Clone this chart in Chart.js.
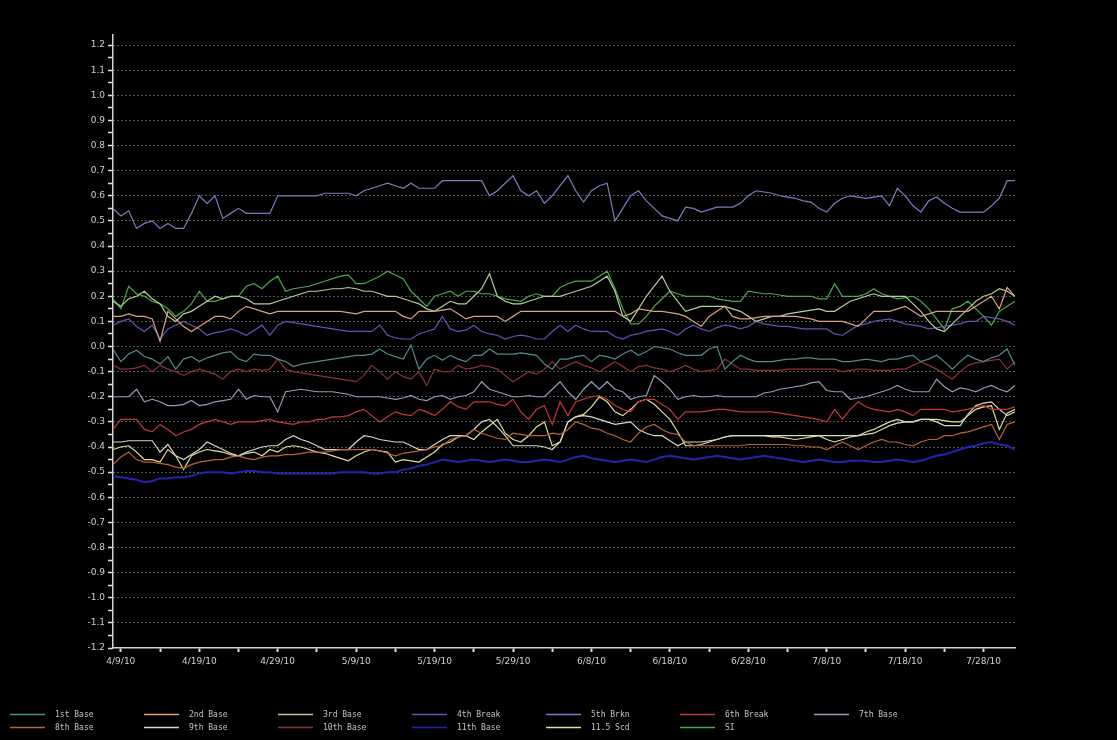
<!DOCTYPE html>
<html>
<head>
<meta charset="utf-8">
<script src="https://cdn.jsdelivr.net/npm/chart.js@4.4.1/dist/chart.umd.min.js"></script>
<style>
  html, body { margin: 0; padding: 0; background: #000; overflow: hidden; }
  canvas { display: block; }
</style>
</head>
<body>
<canvas id="chart" width="1117" height="740"></canvas>
<script>
// Series names and line colours, in legend order (two rows: 7 + 6)
const seriesNames = ['1st Base', '2nd Base', '3rd Base', '4th Break', '5th Brkn', '6th Break', '7th Base',
                     '8th Base', '9th Base', '10th Base', '11th Base', '11.5 Scd', 'SI'];
const seriesColors = ['#4f8c8c', '#e0a07e', '#b4cf96', '#6452b4', '#7580c2', '#c43838', '#949cba',
                      '#bb6238', '#d4d8c6', '#8c3232', '#2424b0', '#e2e094', '#4aaa4a'];
const seriesWidths = [1.2, 1.2, 1.2, 1.2, 1.2, 1.2, 1.2, 1.2, 1.2, 1.2, 2, 1.2, 1.2];

// Date tick labels and the sample index each one sits on
const xTickAt = [1, 11, 21, 31, 41, 51, 61, 71, 81, 91, 101, 111];
const xTickLabels = ['4/9/10', '4/19/10', '4/29/10', '5/9/10', '5/19/10', '5/29/10',
                     '6/8/10', '6/18/10', '6/28/10', '7/8/10', '7/18/10', '7/28/10'];

// One value per sample (116 samples each)
const base1st = [
  -0.01,-0.06,-0.03,-0.015,-0.04,-0.05,-0.07,-0.04,-0.09,-0.05,
  -0.04,-0.06,-0.045,-0.035,-0.025,-0.02,-0.05,-0.06,-0.03,-0.035,
  -0.035,-0.05,-0.06,-0.08,-0.07,-0.065,-0.06,-0.055,-0.05,-0.045,
  -0.04,-0.035,-0.035,-0.03,-0.01,-0.03,-0.04,-0.05,0.005,-0.09,
  -0.05,-0.035,-0.055,-0.035,-0.05,-0.06,-0.035,-0.035,-0.01,-0.03,
  -0.03,-0.03,-0.025,-0.03,-0.035,-0.07,-0.09,-0.05,-0.05,-0.04,
  -0.035,-0.06,-0.035,-0.04,-0.05,-0.03,-0.015,-0.035,-0.02,0.0,
  -0.005,-0.01,-0.025,-0.035,-0.035,-0.035,-0.01,0.0,-0.09,-0.06,
  -0.035,-0.05,-0.06,-0.06,-0.06,-0.055,-0.05,-0.05,-0.045,-0.045,
  -0.05,-0.05,-0.05,-0.06,-0.06,-0.055,-0.05,-0.055,-0.06,-0.05,
  -0.05,-0.04,-0.035,-0.06,-0.05,-0.035,-0.06,-0.09,-0.06,-0.035,
  -0.05,-0.06,-0.045,-0.035,-0.01,-0.075
];
const base2nd = [
  0.12,0.12,0.13,0.12,0.12,0.11,0.02,0.14,0.11,0.08,
  0.06,0.08,0.10,0.12,0.12,0.11,0.14,0.16,0.15,0.14,
  0.13,0.14,0.14,0.14,0.14,0.14,0.14,0.14,0.14,0.14,
  0.135,0.13,0.14,0.14,0.14,0.14,0.14,0.12,0.11,0.14,
  0.14,0.14,0.145,0.15,0.13,0.11,0.12,0.12,0.12,0.12,
  0.10,0.12,0.14,0.14,0.14,0.14,0.14,0.14,0.14,0.14,
  0.14,0.14,0.14,0.14,0.14,0.12,0.13,0.15,0.145,0.14,
  0.14,0.135,0.13,0.12,0.10,0.08,0.12,0.14,0.16,0.12,
  0.11,0.11,0.115,0.12,0.12,0.12,0.12,0.12,0.115,0.11,
  0.10,0.10,0.10,0.10,0.09,0.08,0.11,0.14,0.14,0.14,
  0.15,0.16,0.14,0.12,0.13,0.14,0.14,0.14,0.14,0.14,
  0.16,0.18,0.20,0.15,0.235,0.20
];
const base3rd = [
  0.18,0.16,0.19,0.20,0.22,0.19,0.17,0.12,0.10,0.13,
  0.14,0.16,0.18,0.20,0.19,0.20,0.20,0.19,0.17,0.17,
  0.17,0.18,0.19,0.20,0.21,0.22,0.22,0.225,0.23,0.23,
  0.235,0.23,0.22,0.22,0.21,0.20,0.20,0.19,0.18,0.17,
  0.15,0.14,0.16,0.18,0.17,0.17,0.20,0.23,0.29,0.20,
  0.18,0.17,0.17,0.18,0.19,0.20,0.20,0.20,0.21,0.22,
  0.23,0.24,0.26,0.28,0.22,0.12,0.10,0.15,0.20,0.24,
  0.28,0.22,0.18,0.14,0.15,0.16,0.16,0.16,0.16,0.15,
  0.14,0.12,0.10,0.11,0.12,0.12,0.13,0.135,0.14,0.145,
  0.15,0.14,0.14,0.16,0.18,0.19,0.20,0.21,0.20,0.20,
  0.20,0.20,0.17,0.14,0.10,0.07,0.06,0.09,0.12,0.15,
  0.18,0.20,0.21,0.23,0.22,0.20
];
const break4th = [
  0.085,0.10,0.11,0.08,0.06,0.085,0.03,0.07,0.085,0.10,
  0.085,0.07,0.045,0.055,0.06,0.07,0.06,0.045,0.065,0.085,
  0.045,0.085,0.10,0.095,0.09,0.085,0.08,0.075,0.07,0.065,
  0.06,0.06,0.06,0.06,0.085,0.045,0.035,0.03,0.03,0.05,
  0.06,0.07,0.12,0.07,0.06,0.065,0.085,0.06,0.05,0.045,
  0.03,0.04,0.045,0.04,0.03,0.03,0.06,0.085,0.06,0.085,
  0.07,0.06,0.06,0.06,0.04,0.03,0.045,0.05,0.06,0.065,
  0.07,0.06,0.045,0.07,0.085,0.07,0.06,0.075,0.085,0.08,
  0.07,0.08,0.10,0.09,0.085,0.08,0.08,0.075,0.07,0.07,
  0.07,0.07,0.05,0.045,0.065,0.085,0.09,0.10,0.105,0.11,
  0.10,0.09,0.085,0.08,0.07,0.075,0.08,0.085,0.09,0.10,
  0.10,0.12,0.115,0.11,0.10,0.085
];
const brkn5th = [
  0.55,0.52,0.54,0.47,0.49,0.50,0.47,0.49,0.47,0.47,
  0.53,0.60,0.57,0.60,0.51,0.53,0.55,0.53,0.53,0.53,
  0.53,0.60,0.60,0.60,0.60,0.60,0.60,0.61,0.61,0.61,
  0.61,0.60,0.62,0.63,0.64,0.65,0.64,0.63,0.65,0.63,
  0.63,0.63,0.66,0.66,0.66,0.66,0.66,0.66,0.60,0.62,
  0.65,0.68,0.62,0.60,0.62,0.57,0.60,0.64,0.68,0.62,
  0.575,0.62,0.64,0.65,0.50,0.55,0.60,0.62,0.58,0.55,
  0.52,0.51,0.50,0.555,0.55,0.535,0.545,0.555,0.555,0.555,
  0.57,0.60,0.62,0.615,0.61,0.60,0.595,0.59,0.58,0.575,
  0.55,0.535,0.57,0.59,0.60,0.595,0.59,0.595,0.60,0.56,
  0.63,0.60,0.56,0.535,0.58,0.595,0.57,0.55,0.535,0.535,
  0.535,0.535,0.56,0.59,0.66,0.66
];
const break6th = [
  -0.33,-0.29,-0.29,-0.29,-0.33,-0.34,-0.31,-0.33,-0.355,-0.34,
  -0.33,-0.31,-0.30,-0.29,-0.30,-0.31,-0.30,-0.30,-0.30,-0.295,
  -0.29,-0.30,-0.305,-0.31,-0.30,-0.30,-0.29,-0.29,-0.28,-0.28,
  -0.275,-0.26,-0.25,-0.275,-0.30,-0.28,-0.26,-0.27,-0.275,-0.25,
  -0.26,-0.275,-0.25,-0.22,-0.24,-0.25,-0.22,-0.22,-0.22,-0.23,
  -0.235,-0.21,-0.26,-0.29,-0.25,-0.235,-0.31,-0.22,-0.275,-0.22,
  -0.21,-0.20,-0.195,-0.21,-0.235,-0.25,-0.26,-0.22,-0.21,-0.21,
  -0.23,-0.25,-0.29,-0.26,-0.26,-0.26,-0.255,-0.25,-0.25,-0.255,
  -0.26,-0.26,-0.26,-0.26,-0.26,-0.265,-0.27,-0.275,-0.28,-0.285,
  -0.29,-0.30,-0.25,-0.29,-0.25,-0.22,-0.24,-0.25,-0.255,-0.26,
  -0.25,-0.26,-0.275,-0.25,-0.25,-0.25,-0.25,-0.26,-0.255,-0.25,
  -0.24,-0.235,-0.25,-0.25,-0.25,-0.24
];
const base7th = [
  -0.20,-0.20,-0.20,-0.17,-0.22,-0.21,-0.22,-0.235,-0.235,-0.23,
  -0.215,-0.235,-0.23,-0.22,-0.215,-0.21,-0.17,-0.21,-0.195,-0.20,
  -0.20,-0.26,-0.18,-0.175,-0.17,-0.175,-0.18,-0.18,-0.18,-0.185,
  -0.19,-0.20,-0.20,-0.20,-0.20,-0.205,-0.21,-0.205,-0.195,-0.21,
  -0.215,-0.20,-0.195,-0.21,-0.20,-0.195,-0.18,-0.14,-0.17,-0.18,
  -0.19,-0.20,-0.20,-0.195,-0.20,-0.20,-0.17,-0.14,-0.18,-0.21,
  -0.17,-0.14,-0.17,-0.14,-0.17,-0.18,-0.21,-0.20,-0.195,-0.115,
  -0.14,-0.17,-0.21,-0.20,-0.195,-0.20,-0.20,-0.195,-0.20,-0.20,
  -0.20,-0.20,-0.20,-0.185,-0.18,-0.17,-0.165,-0.16,-0.155,-0.145,
  -0.14,-0.175,-0.18,-0.18,-0.21,-0.205,-0.20,-0.19,-0.18,-0.17,
  -0.155,-0.17,-0.18,-0.18,-0.18,-0.13,-0.16,-0.18,-0.165,-0.17,
  -0.18,-0.165,-0.155,-0.17,-0.18,-0.155
];
const base8th = [
  -0.47,-0.44,-0.42,-0.45,-0.46,-0.46,-0.465,-0.47,-0.48,-0.485,
  -0.47,-0.46,-0.455,-0.45,-0.45,-0.44,-0.435,-0.445,-0.45,-0.44,
  -0.435,-0.435,-0.43,-0.43,-0.425,-0.42,-0.42,-0.42,-0.415,-0.41,
  -0.41,-0.41,-0.41,-0.41,-0.415,-0.425,-0.435,-0.425,-0.42,-0.415,
  -0.41,-0.40,-0.395,-0.37,-0.36,-0.355,-0.33,-0.345,-0.355,-0.365,
  -0.37,-0.345,-0.35,-0.355,-0.355,-0.355,-0.345,-0.35,-0.33,-0.30,
  -0.31,-0.325,-0.33,-0.345,-0.355,-0.37,-0.38,-0.345,-0.32,-0.31,
  -0.33,-0.345,-0.35,-0.38,-0.395,-0.395,-0.395,-0.395,-0.395,-0.395,
  -0.395,-0.39,-0.39,-0.39,-0.39,-0.39,-0.39,-0.395,-0.395,-0.40,
  -0.40,-0.41,-0.395,-0.38,-0.395,-0.41,-0.395,-0.38,-0.37,-0.38,
  -0.38,-0.39,-0.395,-0.38,-0.37,-0.37,-0.355,-0.355,-0.345,-0.34,
  -0.33,-0.32,-0.31,-0.37,-0.31,-0.30
];
const base9th = [
  -0.38,-0.38,-0.375,-0.375,-0.375,-0.375,-0.42,-0.39,-0.435,-0.45,
  -0.43,-0.41,-0.38,-0.395,-0.41,-0.425,-0.435,-0.42,-0.41,-0.40,
  -0.395,-0.395,-0.37,-0.355,-0.37,-0.38,-0.395,-0.41,-0.41,-0.41,
  -0.41,-0.38,-0.355,-0.36,-0.37,-0.375,-0.38,-0.38,-0.395,-0.41,
  -0.41,-0.39,-0.37,-0.355,-0.355,-0.355,-0.33,-0.30,-0.29,-0.32,
  -0.355,-0.395,-0.395,-0.395,-0.395,-0.40,-0.41,-0.38,-0.30,-0.28,
  -0.275,-0.28,-0.29,-0.30,-0.31,-0.305,-0.30,-0.33,-0.345,-0.355,
  -0.355,-0.375,-0.395,-0.38,-0.38,-0.38,-0.375,-0.37,-0.36,-0.355,
  -0.355,-0.355,-0.355,-0.355,-0.355,-0.355,-0.355,-0.355,-0.355,-0.355,
  -0.355,-0.355,-0.355,-0.355,-0.355,-0.355,-0.35,-0.345,-0.33,-0.315,
  -0.305,-0.30,-0.30,-0.29,-0.29,-0.30,-0.315,-0.315,-0.315,-0.27,
  -0.235,-0.225,-0.22,-0.25,-0.275,-0.26
];
const base10th = [
  -0.075,-0.09,-0.09,-0.085,-0.075,-0.10,-0.075,-0.09,-0.10,-0.115,
  -0.10,-0.09,-0.10,-0.11,-0.13,-0.10,-0.09,-0.10,-0.09,-0.095,
  -0.09,-0.05,-0.09,-0.10,-0.105,-0.11,-0.115,-0.12,-0.125,-0.13,
  -0.135,-0.14,-0.115,-0.075,-0.10,-0.13,-0.10,-0.12,-0.13,-0.10,
  -0.155,-0.09,-0.10,-0.10,-0.075,-0.09,-0.085,-0.075,-0.08,-0.09,
  -0.115,-0.14,-0.12,-0.10,-0.11,-0.09,-0.06,-0.09,-0.075,-0.06,
  -0.075,-0.085,-0.10,-0.08,-0.06,-0.08,-0.10,-0.08,-0.075,-0.085,
  -0.09,-0.10,-0.09,-0.075,-0.09,-0.10,-0.095,-0.09,-0.05,-0.07,
  -0.09,-0.09,-0.095,-0.095,-0.095,-0.095,-0.09,-0.09,-0.09,-0.09,
  -0.09,-0.09,-0.09,-0.10,-0.095,-0.09,-0.09,-0.095,-0.095,-0.095,
  -0.09,-0.09,-0.075,-0.06,-0.075,-0.09,-0.11,-0.13,-0.10,-0.075,
  -0.065,-0.06,-0.055,-0.05,-0.09,-0.06
];
const base11th = [
  -0.515,-0.52,-0.525,-0.53,-0.54,-0.535,-0.525,-0.525,-0.52,-0.52,
  -0.515,-0.505,-0.50,-0.50,-0.50,-0.505,-0.50,-0.495,-0.495,-0.50,
  -0.50,-0.505,-0.505,-0.505,-0.505,-0.505,-0.505,-0.505,-0.505,-0.50,
  -0.50,-0.50,-0.50,-0.505,-0.505,-0.50,-0.50,-0.49,-0.485,-0.475,
  -0.47,-0.46,-0.45,-0.455,-0.46,-0.455,-0.45,-0.455,-0.46,-0.455,
  -0.45,-0.455,-0.46,-0.46,-0.455,-0.45,-0.455,-0.46,-0.45,-0.44,
  -0.435,-0.445,-0.45,-0.455,-0.46,-0.455,-0.45,-0.455,-0.46,-0.45,
  -0.44,-0.435,-0.44,-0.445,-0.45,-0.445,-0.44,-0.435,-0.44,-0.445,
  -0.45,-0.445,-0.44,-0.435,-0.44,-0.445,-0.45,-0.455,-0.46,-0.455,
  -0.45,-0.455,-0.46,-0.46,-0.455,-0.455,-0.455,-0.46,-0.46,-0.455,
  -0.45,-0.455,-0.46,-0.455,-0.445,-0.435,-0.43,-0.42,-0.41,-0.40,
  -0.395,-0.385,-0.38,-0.39,-0.395,-0.41
];
const scd115 = [
  -0.41,-0.40,-0.395,-0.42,-0.45,-0.45,-0.46,-0.41,-0.435,-0.49,
  -0.435,-0.42,-0.41,-0.415,-0.42,-0.43,-0.435,-0.425,-0.42,-0.435,
  -0.41,-0.42,-0.40,-0.395,-0.40,-0.41,-0.42,-0.425,-0.435,-0.445,
  -0.455,-0.435,-0.42,-0.41,-0.415,-0.42,-0.46,-0.45,-0.455,-0.46,
  -0.44,-0.42,-0.39,-0.38,-0.36,-0.355,-0.37,-0.34,-0.315,-0.29,
  -0.345,-0.37,-0.38,-0.355,-0.32,-0.30,-0.395,-0.38,-0.30,-0.28,
  -0.27,-0.24,-0.20,-0.22,-0.26,-0.275,-0.25,-0.22,-0.21,-0.23,
  -0.26,-0.29,-0.34,-0.395,-0.395,-0.39,-0.38,-0.37,-0.36,-0.355,
  -0.355,-0.355,-0.355,-0.355,-0.36,-0.36,-0.365,-0.37,-0.365,-0.36,
  -0.355,-0.37,-0.38,-0.37,-0.36,-0.355,-0.34,-0.33,-0.315,-0.30,
  -0.29,-0.30,-0.30,-0.29,-0.29,-0.29,-0.295,-0.30,-0.30,-0.275,
  -0.25,-0.24,-0.235,-0.33,-0.265,-0.25
];
const si = [
  0.19,0.15,0.24,0.21,0.20,0.18,0.17,0.15,0.12,0.14,
  0.17,0.22,0.18,0.18,0.19,0.20,0.20,0.24,0.25,0.23,
  0.26,0.28,0.22,0.23,0.235,0.24,0.25,0.26,0.27,0.28,
  0.285,0.25,0.25,0.265,0.28,0.30,0.285,0.27,0.22,0.19,
  0.16,0.20,0.21,0.22,0.20,0.22,0.22,0.21,0.21,0.20,
  0.19,0.185,0.18,0.20,0.21,0.20,0.20,0.235,0.25,0.26,
  0.26,0.26,0.28,0.30,0.23,0.15,0.09,0.09,0.12,0.16,
  0.19,0.22,0.21,0.20,0.20,0.20,0.20,0.19,0.185,0.18,
  0.18,0.22,0.215,0.21,0.21,0.205,0.20,0.20,0.20,0.20,
  0.19,0.19,0.25,0.20,0.20,0.20,0.21,0.23,0.21,0.20,
  0.19,0.195,0.20,0.18,0.15,0.11,0.07,0.15,0.16,0.18,
  0.15,0.12,0.085,0.14,0.16,0.18
];

const seriesValues = [base1st, base2nd, base3rd, break4th, brkn5th, break6th, base7th,
                      base8th, base9th, base10th, base11th, scd115, si];

const datasets = seriesValues.map((vals, s) => ({
  label: seriesNames[s],
  data: vals.map((v, i) => ({ x: i, y: v })),
  borderColor: seriesColors[s],
  backgroundColor: seriesColors[s],
  borderWidth: seriesWidths[s],
  pointRadius: 0,
  tension: 0,
  fill: false
}));

const axisFont = { family: 'DejaVu Sans', size: 9 };
const textColor = '#cfcfcf';

// Black page background
const blackBackground = {
  id: 'blackBackground',
  beforeDraw(chart) {
    const c = chart.ctx;
    c.save();
    c.fillStyle = '#000';
    c.fillRect(0, 0, chart.width, chart.height);
    c.restore();
  }
};

// Fixed-column legend along the bottom edge
const gridLegend = {
  id: 'gridLegend',
  afterDraw(chart) {
    const c = chart.ctx;
    c.save();
    c.font = '8px "DejaVu Sans Mono"';
    c.textBaseline = 'middle';
    c.textAlign = 'left';
    chart.data.datasets.forEach((ds, i) => {
      const col = i % 7, row = Math.floor(i / 7);
      const x = 10 + col * 134;
      const y = 714 + row * 13;
      c.strokeStyle = ds.borderColor;
      c.lineWidth = 1.5;
      c.beginPath();
      c.moveTo(x, y + 0.5);
      c.lineTo(x + 35, y + 0.5);
      c.stroke();
      c.fillStyle = '#c4c4c4';
      c.fillText(ds.label, x + 45, y + 1);
    });
    c.restore();
  }
};

new Chart(document.getElementById('chart'), {
  type: 'line',
  data: { datasets },
  plugins: [blackBackground, gridLegend],
  options: {
    responsive: false,
    animation: false,
    devicePixelRatio: 1,
    layout: { padding: { left: 0, top: 35, right: 102, bottom: 70 } },
    plugins: {
      legend: { display: false },
      tooltip: { enabled: false }
    },
    scales: {
      x: {
        type: 'linear',
        min: 0,
        max: 115,
        afterBuildTicks(scale) {
          const t = [];
          for (let v = xTickAt[0]; v <= 115; v += 5) t.push({ value: v });
          scale.ticks = t;
        },
        afterFit(scale) { scale.height = 22; },
        ticks: {
          autoSkip: false,
          maxRotation: 0,
          padding: 4,
          color: textColor,
          font: axisFont,
          callback(value) {
            const k = xTickAt.indexOf(value);
            return k >= 0 ? xTickLabels[k] : '';
          }
        },
        grid: {
          drawOnChartArea: false,
          drawTicks: true,
          tickLength: 4,
          tickColor: '#e0e0e0',
          tickWidth: 2
        },
        border: { display: true, color: '#d4d4d4', width: 1.5 }
      },
      y: {
        type: 'linear',
        min: -1.2,
        max: 1.24,
        afterBuildTicks(scale) {
          const t = [];
          for (let k = -24; k <= 24; k++) t.push({ value: k / 20 });
          scale.ticks = t;
        },
        afterFit(scale) { scale.width = 113; },
        ticks: {
          autoSkip: false,
          padding: 3,
          color: textColor,
          font: axisFont,
          callback(value) {
            const k = Math.round(value * 20);
            if (k % 2 !== 0) return '';
            const v = k / 20;
            return (Math.abs(v) < 1e-9 ? 0 : v).toFixed(1);
          }
        },
        grid: {
          drawTicks: true,
          tickLength: 5,
          tickWidth: 1.5,
          tickColor: '#e0e0e0',
          lineWidth: 1,
          color(ctx) {
            if (!ctx.tick) return 'rgba(0,0,0,0)';
            const k = Math.round(ctx.tick.value * 20);
            if (k % 2 !== 0 || k === -24) return 'rgba(0,0,0,0)';
            return '#a8a8a8';
          }
        },
        border: { display: true, color: '#d4d4d4', width: 1.5, dash: [1, 3] }
      }
    }
  }
});
</script>
</body>
</html>
